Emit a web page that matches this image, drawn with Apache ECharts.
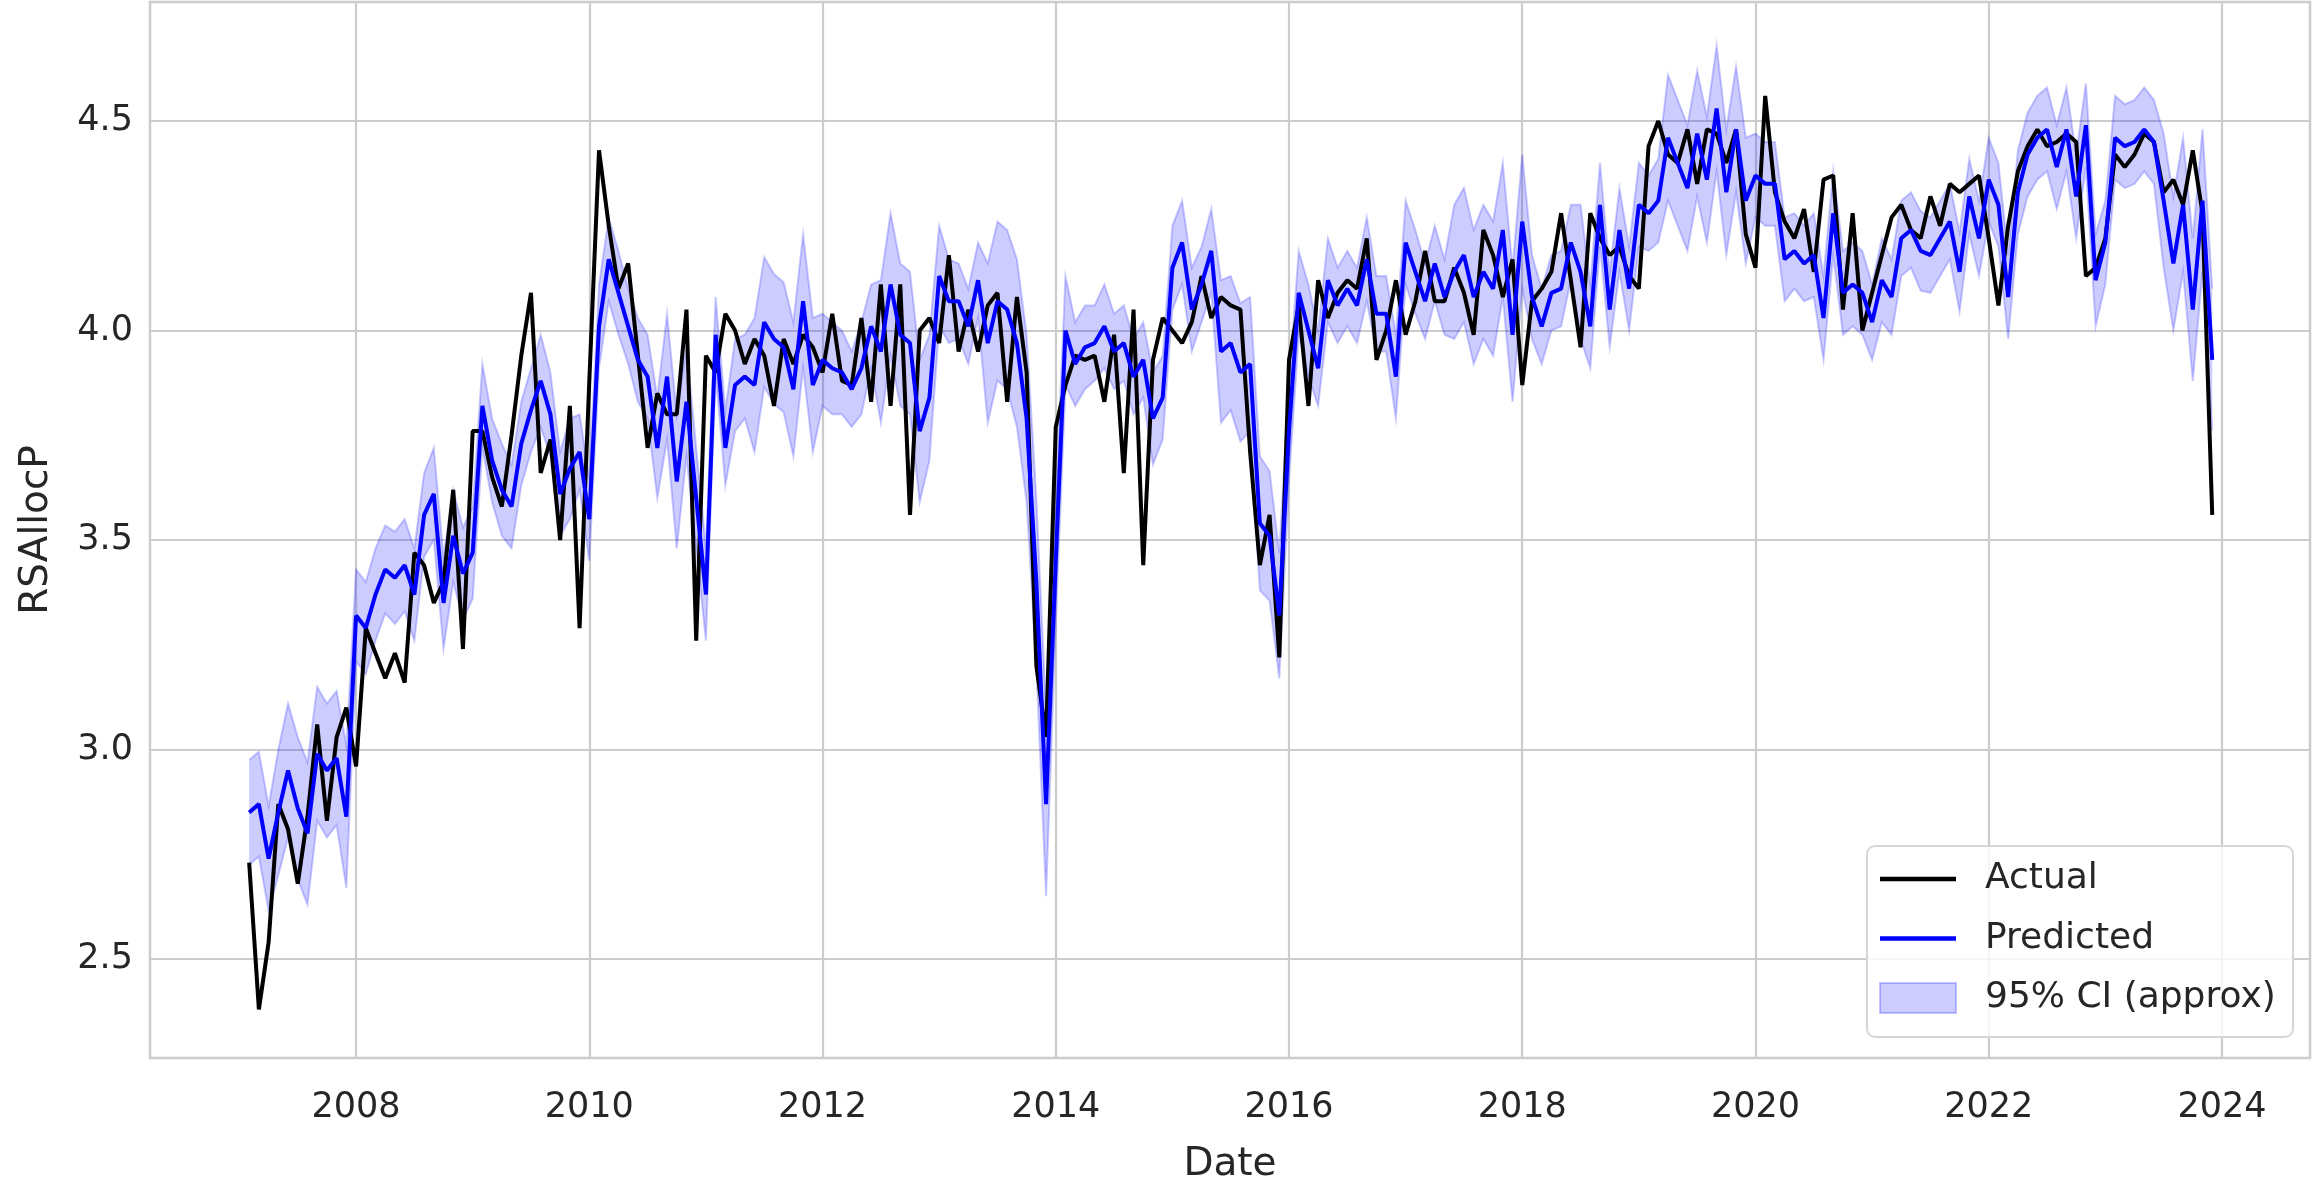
<!DOCTYPE html>
<html>
<head>
<meta charset="utf-8">
<script src="https://cdn.jsdelivr.net/npm/echarts@6/dist/echarts.min.js"></script>
<style>
  html, body { margin: 0; padding: 0; background: #fff; }
  #chart { width: 2313px; height: 1189px; }
</style>
</head>
<body>
<div id="chart"></div>
<script>
// monthly points, first one is Feb 2007, last one Dec 2023
var startYear = 2007, startMonth = 2;

var actual = [
  2.73, 2.38, 2.54, 2.87, 2.81, 2.68, 2.84, 3.06, 2.83, 3.03, 3.10,
  2.96, 3.29, 3.23, 3.17, 3.23, 3.16, 3.47, 3.44, 3.35, 3.40, 3.62, 3.24,
  3.76, 3.76, 3.65, 3.58, 3.75, 3.94, 4.09, 3.66, 3.74, 3.50, 3.82, 3.29,
  3.88, 4.43, 4.25, 4.10, 4.16, 3.94, 3.72, 3.85, 3.80, 3.80, 4.05, 3.26,
  3.94, 3.90, 4.04, 4.00, 3.92, 3.98, 3.94, 3.82, 3.98, 3.92, 3.99, 3.96,
  3.90, 4.04, 3.88, 3.87, 4.03, 3.83, 4.11, 3.82, 4.11, 3.56, 4.00, 4.03,
  3.97, 4.18, 3.95, 4.05, 3.95, 4.06, 4.09, 3.83, 4.08, 3.90, 3.20, 3.03,
  3.77, 3.87, 3.94, 3.93, 3.94, 3.83, 3.99, 3.66, 4.05, 3.44, 3.93, 4.03,
  4.00, 3.97, 4.02, 4.13, 4.03, 4.08, 4.06, 4.05, 3.71, 3.44, 3.56, 3.22,
  3.93, 4.06, 3.82, 4.12, 4.03, 4.09, 4.12, 4.10, 4.22, 3.93, 4.00, 4.12,
  3.99, 4.07, 4.19, 4.07, 4.07, 4.15, 4.09, 3.99, 4.24, 4.18, 4.08, 4.17,
  3.87, 4.07, 4.10, 4.14, 4.28, 4.12, 3.96, 4.28, 4.22, 4.18, 4.20, 4.13,
  4.10, 4.44, 4.50, 4.42, 4.40, 4.48, 4.35, 4.48, 4.47, 4.40, 4.48, 4.23,
  4.15, 4.56, 4.33, 4.26, 4.22, 4.29, 4.14, 4.36, 4.37, 4.05, 4.28, 4.00,
  4.09, 4.18, 4.27, 4.30, 4.24, 4.22, 4.32, 4.25, 4.35, 4.33, 4.35, 4.37,
  4.22, 4.06, 4.25, 4.38, 4.44, 4.48, 4.44, 4.45, 4.47, 4.45, 4.13, 4.15,
  4.22, 4.42, 4.39, 4.42, 4.47, 4.45, 4.33, 4.36, 4.30, 4.43, 4.28, 3.56
];

var predicted = [
  2.85, 2.87, 2.74, 2.85, 2.95, 2.86, 2.80, 2.99, 2.95, 2.98, 2.84,
  3.32, 3.29, 3.37, 3.43, 3.41, 3.44, 3.37, 3.56, 3.61, 3.35, 3.51, 3.42,
  3.47, 3.82, 3.69, 3.62, 3.58, 3.73, 3.81, 3.88, 3.80, 3.61, 3.67, 3.71,
  3.55, 4.01, 4.17, 4.09, 4.01, 3.93, 3.89, 3.72, 3.89, 3.64, 3.83, 3.60,
  3.37, 3.99, 3.72, 3.87, 3.89, 3.87, 4.02, 3.98, 3.96, 3.86, 4.07, 3.87,
  3.93, 3.91, 3.90, 3.86, 3.91, 4.01, 3.95, 4.11, 3.99, 3.97, 3.76, 3.84,
  4.13, 4.07, 4.07, 4.01, 4.12, 3.97, 4.07, 4.05, 3.97, 3.79, 3.40, 2.87,
  3.45, 4.00, 3.92, 3.96, 3.97, 4.01, 3.95, 3.97, 3.89, 3.93, 3.79, 3.84,
  4.15, 4.21, 4.05, 4.11, 4.19, 3.95, 3.97, 3.90, 3.92, 3.54, 3.51, 3.32,
  3.76, 4.09, 4.00, 3.91, 4.12, 4.06, 4.10, 4.06, 4.17, 4.04, 4.04, 3.89,
  4.21, 4.14, 4.07, 4.16, 4.08, 4.14, 4.18, 4.08, 4.14, 4.10, 4.24, 3.99,
  4.26, 4.08, 4.01, 4.09, 4.10, 4.21, 4.14, 4.01, 4.30, 4.05, 4.24, 4.10,
  4.30, 4.28, 4.31, 4.46, 4.40, 4.34, 4.47, 4.36, 4.53, 4.33, 4.48, 4.31,
  4.37, 4.35, 4.35, 4.17, 4.19, 4.16, 4.18, 4.03, 4.28, 4.09, 4.11, 4.09,
  4.02, 4.12, 4.08, 4.22, 4.24, 4.19, 4.18, 4.22, 4.26, 4.14, 4.32, 4.22,
  4.36, 4.30, 4.08, 4.33, 4.42, 4.46, 4.48, 4.39, 4.48, 4.32, 4.49, 4.12,
  4.21, 4.46, 4.44, 4.45, 4.48, 4.45, 4.31, 4.16, 4.30, 4.05, 4.31, 3.93
];

// half width of the shaded band around the prediction
var ciHalf = [
  0.125, 0.125, 0.125, 0.15, 0.16, 0.17, 0.17, 0.16, 0.16, 0.16, 0.17,
  0.11, 0.11, 0.11, 0.105, 0.11, 0.11, 0.11, 0.10, 0.11, 0.11, 0.11, 0.11,
  0.11, 0.10, 0.10, 0.11, 0.10, 0.10, 0.10, 0.11, 0.10, 0.10, 0.12, 0.09,
  0.10, 0.10, 0.10, 0.10, 0.09, 0.10, 0.10, 0.12, 0.15, 0.16, 0.13, 0.12,
  0.11, 0.09, 0.09, 0.11, 0.10, 0.16, 0.155, 0.155, 0.155, 0.16, 0.16, 0.16,
  0.11, 0.11, 0.10, 0.09, 0.11, 0.10, 0.17, 0.17, 0.17, 0.17, 0.17, 0.15,
  0.12, 0.10, 0.09, 0.09, 0.09, 0.19, 0.19, 0.19, 0.20, 0.20, 0.20, 0.22,
  0.15, 0.13, 0.10, 0.10, 0.09, 0.10, 0.09, 0.09, 0.09, 0.09, 0.11, 0.10,
  0.10, 0.10, 0.10, 0.09, 0.10, 0.17, 0.16, 0.165, 0.16, 0.16, 0.155, 0.15,
  0.12, 0.10, 0.11, 0.09, 0.10, 0.09, 0.09, 0.09, 0.10, 0.09, 0.09, 0.10,
  0.10, 0.10, 0.09, 0.09, 0.09, 0.16, 0.16, 0.16, 0.16, 0.16, 0.16, 0.16,
  0.16, 0.10, 0.09, 0.09, 0.09, 0.09, 0.16, 0.10, 0.10, 0.09, 0.10, 0.10,
  0.10, 0.09, 0.10, 0.15, 0.15, 0.15, 0.15, 0.15, 0.15, 0.15, 0.15, 0.15,
  0.10, 0.10, 0.10, 0.10, 0.09, 0.09, 0.10, 0.10, 0.10, 0.10, 0.10, 0.10,
  0.09, 0.10, 0.09, 0.09, 0.09, 0.095, 0.09, 0.09, 0.09, 0.095, 0.09, 0.09,
  0.10, 0.10, 0.10, 0.10, 0.10, 0.10, 0.10, 0.10, 0.10, 0.10, 0.10, 0.11,
  0.10, 0.10, 0.10, 0.10, 0.10, 0.10, 0.16, 0.16, 0.16, 0.17, 0.17, 0.17
];

var xTicks = [2008, 2010, 2012, 2014, 2016, 2018, 2020, 2022, 2024];
var yTicks = [2.5, 3.0, 3.5, 4.0, 4.5];

// decimal year for each month
var t = actual.map(function (v, i) {
  return startYear + (startMonth - 1 + i) / 12;
});

var actualData = actual.map(function (v, i) { return [t[i], v]; });
var predData = predicted.map(function (v, i) { return [t[i], v]; });
var bandLow = predicted.map(function (v, i) { return v - ciHalf[i]; });
var bandHigh = predicted.map(function (v, i) { return v + ciHalf[i]; });

var font = 'DejaVu Sans';
var txt = '#262626';
var bandColor = 'rgba(0,0,255,0.2)';

function renderBand(params, api) {
  var up = [], lo = [];
  for (var i = 0; i < t.length; i++) {
    up.push(api.coord([t[i], bandHigh[i]]));
    lo.push(api.coord([t[i], bandLow[i]]));
  }
  var poly = up.concat(lo.slice().reverse());
  return {
    type: 'group',
    children: [
      { type: 'polygon', shape: { points: poly }, style: { fill: bandColor, stroke: null } },
      { type: 'polyline', shape: { points: up }, style: { fill: null, stroke: bandColor, lineWidth: 2 } },
      { type: 'polyline', shape: { points: lo }, style: { fill: null, stroke: bandColor, lineWidth: 2 } }
    ]
  };
}

var lineIcon = 'path://M0,0L76,0L76,4.5L0,4.5Z';

var chart = echarts.init(document.getElementById('chart'));
chart.setOption({
  animation: false,
  backgroundColor: '#fff',
  grid: {
    left: 150, right: 3, top: 2, bottom: 130,
    show: true, borderColor: '#cccccc', borderWidth: 2.5
  },
  xAxis: {
    type: 'value',
    min: 2006.233, max: 2024.755,
    name: 'Date', nameLocation: 'middle', nameGap: 87,
    nameTextStyle: { fontFamily: font, fontSize: 39, color: txt },
    axisLine: { show: false },
    axisTick: { show: false, customValues: xTicks },
    axisLabel: {
      customValues: xTicks, margin: 32,
      fontFamily: font, fontSize: 35, color: txt,
      formatter: function (v) { return String(Math.round(v)); }
    },
    splitLine: { show: true, lineStyle: { color: '#cccccc', width: 2.2 } }
  },
  yAxis: {
    type: 'value',
    min: 2.264, max: 4.784,
    name: 'RSAllocP', nameLocation: 'middle', nameGap: 94,
    nameTextStyle: { fontFamily: font, fontSize: 39, color: txt },
    axisLine: { show: false },
    axisTick: { show: false, customValues: yTicks },
    axisLabel: {
      customValues: yTicks, margin: 17,
      fontFamily: font, fontSize: 35, color: txt,
      formatter: function (v) { return v.toFixed(1); }
    },
    splitLine: { show: true, lineStyle: { color: '#cccccc', width: 2.2 } }
  },
  legend: {
    orient: 'vertical', left: 1879, top: 861, padding: 0,
    itemWidth: 76, itemHeight: 30, itemGap: 23.5,
    textStyle: { fontFamily: font, fontSize: 36, color: txt, padding: [0, 0, 0, 24] },
    data: [
      { name: 'Actual', icon: lineIcon },
      { name: 'Predicted', icon: lineIcon },
      {
        name: '95% CI (approx)', icon: 'rect',
        itemStyle: { color: bandColor, borderColor: 'rgba(0,0,255,0.22)', borderWidth: 2 }
      }
    ]
  },
  graphic: [{
    type: 'rect', z: 3, silent: true,
    shape: { x: 1867, y: 846, width: 426, height: 191, r: 8 },
    style: { fill: 'rgba(255,255,255,0.8)', stroke: '#d6d6d6', lineWidth: 2 }
  }],
  series: [{
    name: '95% CI (approx)', type: 'custom',
    data: [[t[0], predicted[0]]],
    renderItem: renderBand,
    silent: true, z: 1,
    itemStyle: { color: bandColor }
  }, {
    name: 'Actual', type: 'line', data: actualData,
    symbol: 'none', z: 2,
    itemStyle: { color: '#000000' },
    lineStyle: { color: '#000000', width: 4 }
  }, {
    name: 'Predicted', type: 'line', data: predData,
    symbol: 'none', z: 2,
    itemStyle: { color: '#0000ff' },
    lineStyle: { color: '#0000ff', width: 4 }
  }]
});
</script>
</body>
</html>
